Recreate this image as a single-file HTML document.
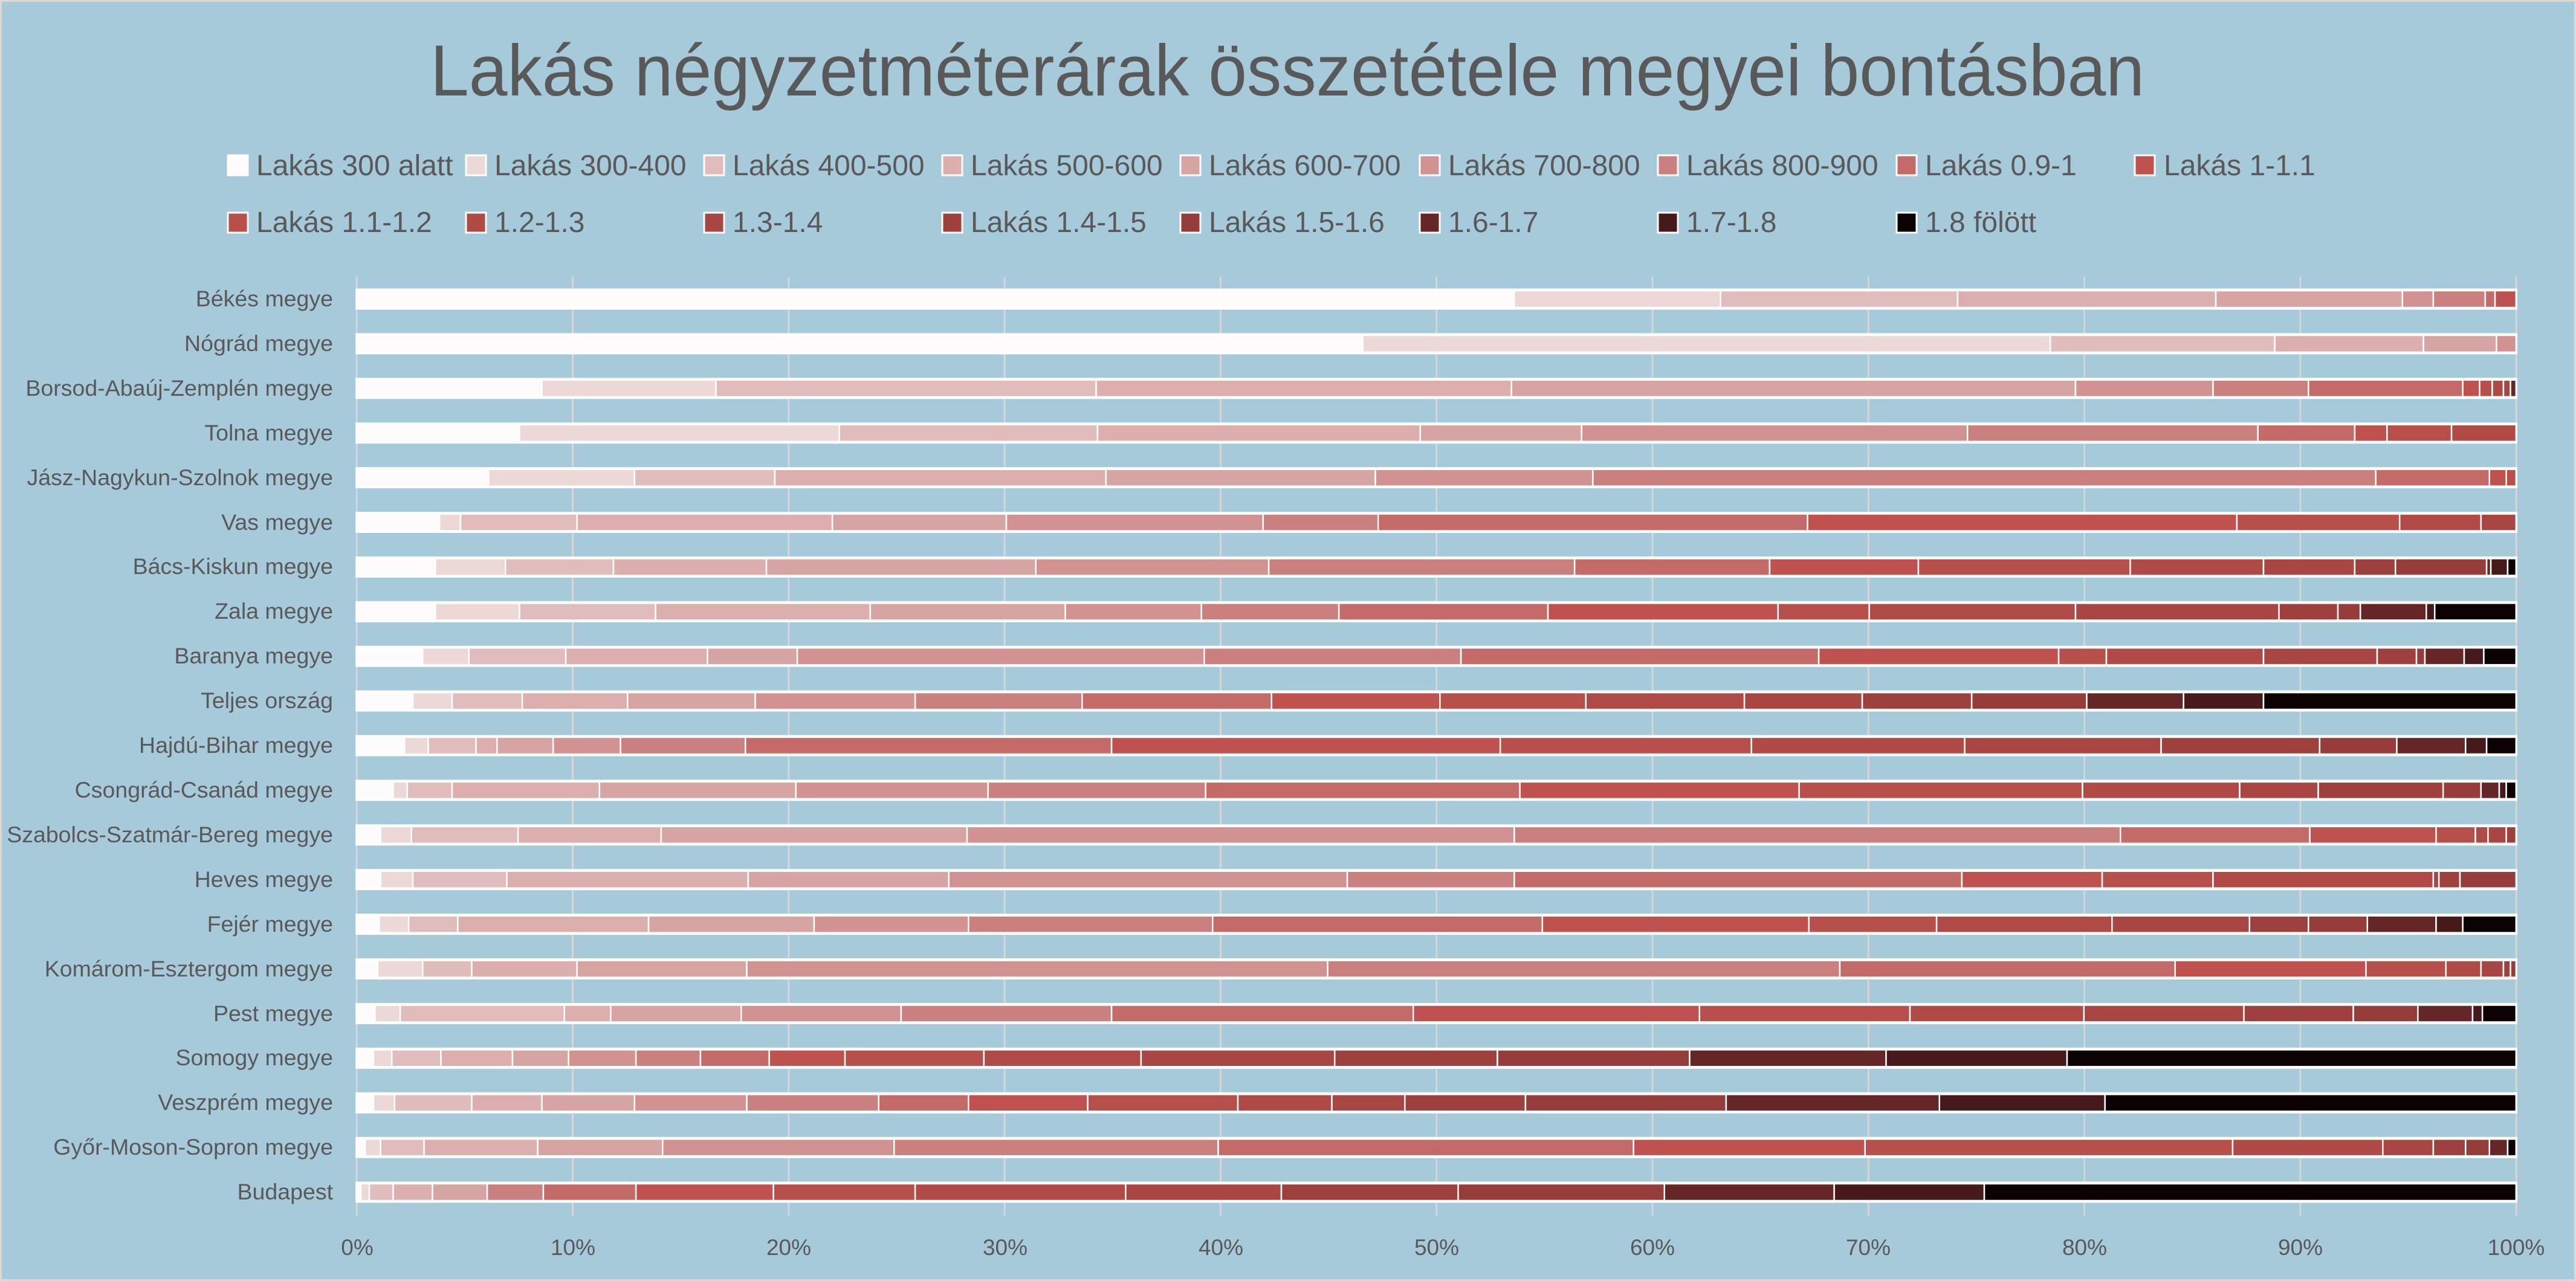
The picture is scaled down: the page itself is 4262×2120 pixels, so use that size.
<!DOCTYPE html>
<html><head><meta charset="utf-8">
<style>
html,body{margin:0;padding:0;background:#a7cadb;}
svg{display:block;}
text{font-family:"Liberation Sans",sans-serif;fill:#595959;}
</style></head>
<body>
<svg id="s" xmlns="http://www.w3.org/2000/svg" width="4262" height="2120" viewBox="0 0 4262 2120">
<rect x="0" y="0" width="4262" height="2120" fill="#a7cadb"/>
<rect x="1.5" y="1.5" width="4259" height="2117" fill="none" stroke="#d9d9d9" stroke-width="3"/>
<text x="712" y="158" font-size="120" textLength="2836" lengthAdjust="spacingAndGlyphs">Lakás négyzetméterárak összetétele megyei bontásban</text>
<g id="grid" stroke="#d3d6d8" stroke-width="3"></g>
<g id="bars"></g>
<g id="legend"></g>
<g font-size="37.5" text-anchor="end" id="cats">
<text x="551" y="507">Békés megye</text>
<text x="551" y="581">Nógrád megye</text>
<text x="551" y="655">Borsod-Abaúj-Zemplén megye</text>
<text x="551" y="729">Tolna megye</text>
<text x="551" y="803">Jász-Nagykun-Szolnok megye</text>
<text x="551" y="877">Vas megye</text>
<text x="551" y="950">Bács-Kiskun megye</text>
<text x="551" y="1024">Zala megye</text>
<text x="551" y="1098">Baranya megye</text>
<text x="551" y="1172">Teljes ország</text>
<text x="551" y="1246">Hajdú-Bihar megye</text>
<text x="551" y="1320">Csongrád-Csanád megye</text>
<text x="551" y="1394">Szabolcs-Szatmár-Bereg megye</text>
<text x="551" y="1468">Heves megye</text>
<text x="551" y="1542">Fejér megye</text>
<text x="551" y="1616">Komárom-Esztergom megye</text>
<text x="551" y="1690">Pest megye</text>
<text x="551" y="1763">Somogy megye</text>
<text x="551" y="1837">Veszprém megye</text>
<text x="551" y="1911">Győr-Moson-Sopron megye</text>
<text x="551" y="1985">Budapest</text>
</g>
<g font-size="37" text-anchor="middle">
<text x="591" y="2077">0%</text>
<text x="948" y="2077">10%</text>
<text x="1305" y="2077">20%</text>
<text x="1663" y="2077">30%</text>
<text x="2020" y="2077">40%</text>
<text x="2377" y="2077">50%</text>
<text x="2734" y="2077">60%</text>
<text x="3091" y="2077">70%</text>
<text x="3449" y="2077">80%</text>
<text x="3806" y="2077">90%</text>
<text x="4163" y="2077">100%</text>
</g>
<g font-size="48">
<text x="424" y="290">Lakás 300 alatt</text>
<text x="818" y="290">Lakás 300-400</text>
<text x="1212" y="290">Lakás 400-500</text>
<text x="1606" y="290">Lakás 500-600</text>
<text x="2000" y="290">Lakás 600-700</text>
<text x="2396" y="290">Lakás 700-800</text>
<text x="2790" y="290">Lakás 800-900</text>
<text x="3185" y="290">Lakás 0.9-1</text>
<text x="3580" y="290">Lakás 1-1.1</text>
<text x="424" y="384">Lakás 1.1-1.2</text>
<text x="818" y="384">1.2-1.3</text>
<text x="1212" y="384">1.3-1.4</text>
<text x="1606" y="384">Lakás 1.4-1.5</text>
<text x="2000" y="384">Lakás 1.5-1.6</text>
<text x="2396" y="384">1.6-1.7</text>
<text x="2790" y="384">1.7-1.8</text>
<text x="3185" y="384">1.8 fölött</text>
</g>
</svg>
<script>
var NS="http://www.w3.org/2000/svg";
var C=["#fdfbfb","#edd8d8","#e1bcbc","#dcaeae","#d6a4a3","#d29292","#ca807e","#c46a68","#bf524f","#b74f4b","#af4a47","#a84644","#9e413e","#963c3a","#652628","#461a1b","#0c0203"];
function el(t,a,p){var e=document.createElementNS(NS,t);for(var k in a)e.setAttribute(k,a[k]);p.appendChild(e);return e;}
var g=document.getElementById("grid");
for(var i=0;i<=10;i++){var x=590.2+i*357.3;el("line",{x1:x,x2:x,y1:458,y2:2012},g);}
var R=[
[[0,838],[1,985],[2,1154],[3,1338],[4,1471],[5,1493],[6,1530],[7,1537],[8,1552]],
[[0,730],[1,1220],[2,1380],[3,1486],[4,1538],[5,1552]],
[[0,145],[1,269],[2,540],[3,836],[4,1238],[5,1336],[6,1404],[7,1514],[8,1526],[9,1535],[10,1543],[11,1548],[14,1552]],
[[0,129],[1,357],[2,541],[3,771],[4,886],[5,1161],[6,1368],[7,1437],[8,1460],[9,1506],[10,1552]],
[[0,107],[1,211],[2,311],[3,547],[4,739],[5,894],[6,1452],[7,1533],[8,1545],[9,1552]],
[[0,72],[1,87],[2,170],[3,352],[4,476],[5,659],[6,741],[7,1047],[8,1353],[9,1469],[10,1527],[11,1552]],
[[0,69],[1,119],[2,196],[3,305],[4,497],[5,663],[6,881],[7,1020],[8,1126],[9,1277],[10,1372],[11,1437],[12,1466],[13,1531],[14,1534],[15,1546],[16,1552]],
[[0,69],[1,129],[2,226],[3,379],[4,518],[5,615],[6,713],[7,862],[8,1026],[9,1091],[10,1238],[11,1383],[12,1425],[13,1441],[14,1488],[15,1494],[16,1552]],
[[0,60],[1,93],[2,162],[3,263],[4,327],[5,617],[6,800],[7,1055],[8,1226],[9,1260],[10,1372],[11,1453],[12,1481],[13,1487],[14,1515],[15,1529],[16,1552]],
[[0,53],[1,81],[2,131],[3,206],[4,297],[5,411],[6,530],[7,665],[8,785],[9,889],[10,1002],[11,1086],[12,1164],[13,1246],[14,1315],[15,1372],[16,1552]],
[[0,47],[1,64],[2,98],[3,113],[4,153],[5,201],[6,290],[7,551],[8,828],[9,1007],[10,1159],[11,1299],[12,1412],[13,1467],[14,1516],[15,1531],[16,1552]],
[[0,39],[1,49],[2,81],[3,186],[4,326],[5,463],[6,618],[7,842],[8,1041],[9,1243],[10,1355],[11,1411],[12,1500],[13,1527],[14,1540],[15,1545],[16,1552]],
[[0,30],[1,52],[2,128],[3,230],[4,448],[5,838],[6,1270],[7,1405],[8,1495],[9,1523],[10,1532],[11,1545],[12,1552]],
[[0,30],[1,53],[2,120],[3,292],[4,435],[5,719],[6,838],[7,1157],[8,1257],[9,1336],[10,1493],[11,1497],[12,1512],[13,1552]],
[[0,29],[1,50],[2,85],[3,221],[4,339],[5,449],[6,623],[7,858],[8,1048],[9,1139],[10,1264],[11,1362],[12,1404],[13,1446],[14,1495],[15,1514],[16,1552]],
[[0,28],[1,60],[2,95],[3,170],[4,291],[5,705],[6,1070],[7,1309],[8,1445],[9,1502],[10,1527],[11,1543],[12,1548],[13,1552]],
[[0,26],[1,44],[2,161],[3,194],[4,287],[5,401],[6,551],[7,766],[8,970],[9,1120],[10,1244],[11,1358],[12,1436],[13,1482],[14,1521],[15,1528],[16,1552]],
[[0,25],[1,38],[2,73],[3,124],[4,164],[5,212],[6,258],[7,307],[8,361],[9,460],[10,572],[11,710],[12,826],[13,963],[14,1103],[15,1232],[16,1552]],
[[0,25],[1,40],[2,95],[3,145],[4,211],[5,291],[6,385],[7,449],[8,534],[9,641],[10,708],[11,760],[12,846],[13,989],[14,1141],[15,1259],[16,1552]],
[[0,19],[1,30],[2,61],[3,142],[4,231],[5,396],[6,627],[7,923],[8,1088],[9,1350],[10,1457],[11,1493],[12,1516],[13,1533],[14,1546],[16,1552]],
[[0,16],[1,22],[2,39],[3,67],[4,106],[6,146],[7,212],[8,310],[9,411],[10,561],[11,672],[12,798],[13,945],[14,1066],[15,1173],[16,1552]]
];
var b=document.getElementById("bars");
function X(z){return 560+z*2.32143;}
R.forEach(function(row,i){
  var cy=495+73.9*i, prev=13;
  el("rect",{x:X(13)-2,y:cy-17.5,width:X(1552)-X(13)+4,height:35,fill:"#ffffff"},b);
  row.forEach(function(s){
    var x0=X(prev),x1=X(s[1]);
    el("rect",{x:x0,y:cy-14,width:Math.max(0,x1-x0),height:28,fill:C[s[0]],stroke:"#ffffff","stroke-width":2.5},b);
    prev=s[1];
  });
});
var L=document.getElementById("legend");
var xs=[377,771,1165,1559,1953,2349,2743,3138,3532];
for(var k=0;k<17;k++){
  var row=k<9?0:1, col=k<9?k:k-9;
  var y=row?352:257;
  el("rect",{x:xs[col],y:y,width:33,height:33,fill:C[k],stroke:"#ffffff","stroke-width":3},L);
}
</script>
</body></html>
